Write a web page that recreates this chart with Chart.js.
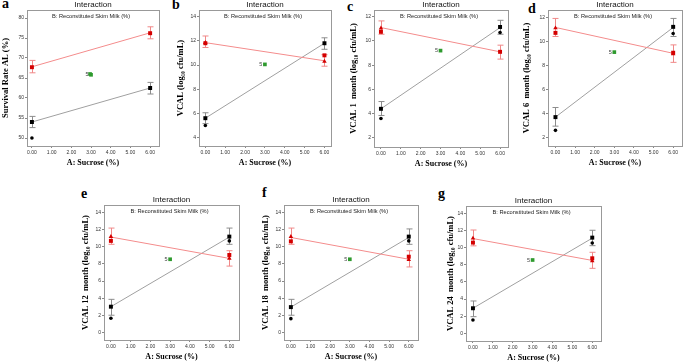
<!DOCTYPE html>
<html>
<head>
<meta charset="utf-8">
<script src="https://cdn.jsdelivr.net/npm/chart.js@4"></script>
<style>
  html, body { margin: 0; padding: 0; background: #fff; }
  body { width: 685px; height: 363px; position: relative; overflow: hidden; }
  canvas { position: absolute; }
  .letter { position: absolute; font: bold 14px 'Liberation Serif', 'Times New Roman', serif; line-height: 14px; color: #000; }
</style>
</head>
<body>
<div class="letter" style="left:2px;top:-3px">a</div>
<div class="letter" style="left:172px;top:-2px">b</div>
<div class="letter" style="left:347px;top:0px">c</div>
<div class="letter" style="left:528px;top:2px">d</div>
<div class="letter" style="left:81px;top:187px">e</div>
<div class="letter" style="left:262px;top:186px">f</div>
<div class="letter" style="left:438px;top:187px">g</div>
<script>
// factor levels and tick labels
const xLevels = [0, 6];
const xTicks = [0, 1, 2, 3, 4, 5, 6];
const yTickLists = [
    [50, 55, 60, 65, 70, 75, 80],
    [4, 6, 8, 10, 12, 14],
    [2, 4, 6, 8, 10, 12],
    [2, 4, 6, 8, 10, 12],
    [0, 2, 4, 6, 8, 10, 12, 14],
    [0, 2, 4, 6, 8, 10, 12, 14],
    [0, 2, 4, 6, 8, 10, 12, 14]
];
const yTitles = [
    'Survival Rate AL (%)',
    'VCAL (log\u2081\u2080 cfu/mL)',
    'VCAL 1  month (log\u2081\u2080 cfu/mL)',
    'VCAL 6  month (log\u2081\u2080 cfu/mL)',
    'VCAL 12  month (log\u2081\u2080 cfu/mL)',
    'VCAL 18  month (log\u2081\u2080 cfu/mL)',
    'VCAL 24  month (log\u2081\u2080 cfu/mL)'
];
const yRanges = [[48, 82], [3.3, 14.55], [1.25, 12.55], [1.3, 12.6], [-0.9, 14.9], [-0.9, 14.9], [-0.9, 14.85]];
const xRanges = [[-0.25, 6.45], [-0.32, 6.33], [-0.35, 6.4], [-0.38, 6.45], [-0.35, 6.49], [-0.35, 6.47], [-0.35, 6.44]];

// interaction lines (means at sucrose 0 and 6) and their error bars
const redMeans = [[67.8, 76.3], [11.85, 10.35], [11.1, 9.1], [11.15, 9.0], [11.15, 8.65], [11.1, 8.55], [11.05, 8.5]];
const redLow = [[66.3, 74.8], [11.45, 9.9], [10.55, 8.5], [10.4, 8.25], [10.3, 7.75], [10.3, 7.65], [10.2, 7.58]];
const redHigh = [[69.4, 77.8], [12.4, 10.85], [11.65, 9.65], [11.9, 9.7], [12.2, 9.55], [12.2, 9.55], [12.05, 9.45]];
const blackMeans = [[54, 62.5], [5.6, 11.8], [4.4, 11.1], [3.7, 11.15], [3.0, 11.15], [2.95, 11.1], [2.92, 11.1]];
const blackLow = [[52.6, 61.0], [5.15, 11.3], [3.85, 10.55], [2.95, 10.4], [2.0, 10.3], [2.0, 10.3], [1.94, 10.22]];
const blackHigh = [[55.4, 63.9], [6.05, 12.25], [5.0, 11.7], [4.5, 11.9], [3.86, 12.2], [3.86, 12.1], [3.77, 12.02]];

// design points
const redSquares = [
    [[0, 67.7], [6, 76.2]],
    [[0, 11.8], [6, 10.8]],
    [[0, 10.75], [6, 9.1]],
    [[0, 10.7], [6, 9.05]],
    [[0, 10.7], [6, 9.05]],
    [[0, 10.65], [6, 8.85]],
    [[0, 10.58], [6, 8.75]]
];
const redTriangles = [
    [],
    [[0, 11.85], [6, 10.3]],
    [[0, 11.05]],
    [[0, 11.1], [6, 8.95]],
    [[0, 11.2], [6, 8.65]],
    [[0, 11.2], [6, 8.5]],
    [[0, 11.08], [6, 8.44]]
];
const blackSquares = [
    [[0, 54], [6, 62.5]],
    [[0, 5.6], [6, 11.8]],
    [[0, 4.4], [6, 11.15]],
    [[0, 3.7], [6, 11.2]],
    [[0, 3.0], [6, 11.2]],
    [[0, 2.95], [6, 11.2]],
    [[0, 2.92], [6, 11.16]]
];
const blackCircles = [
    [[0, 50]],
    [[0, 5.0]],
    [[0, 3.6], [6, 10.7]],
    [[0, 2.6], [6, 10.65]],
    [[0, 1.64], [6, 10.7]],
    [[0, 1.6], [6, 10.7]],
    [[0, 1.55], [6, 10.54]]
];
const centrePoints = [
    [[2.95, 66.0], [3, 65.8]],
    [[3, 10.05]],
    [[3, 9.2]],
    [[3, 9.1]],
    [[3, 8.55]],
    [[3, 8.55]],
    [[3, 8.55]]
];
const centreReps = 5;

// plot box of each panel, page pixels
const boxes = [
    { l: 27, t: 10, r: 161, b: 146 },
    { l: 199, t: 10, r: 333, b: 146 },
    { l: 374, t: 10, r: 510, b: 147 },
    { l: 548, t: 10, r: 684, b: 146 },
    { l: 104, t: 205, r: 241, b: 340 },
    { l: 284, t: 205, r: 420, b: 340 },
    { l: 466, t: 206, r: 603, b: 341 }
];
const yAxisWidths = [25, 22, 24, 25, 22, 22, 19];

const SANS = "'Liberation Sans', Arial, sans-serif";
const SERIF = "'Liberation Serif', 'Times New Roman', serif";
Chart.defaults.font.family = SANS;

const toXY = arr => arr.map(p => ({ x: p[0], y: p[1] }));

function drawErrorBars(ctx, xs, ys, lows, highs, color) {
    ctx.strokeStyle = color;
    ctx.lineWidth = 1;
    xLevels.forEach((xv, k) => {
        const px = Math.round(xs.getPixelForValue(xv)) + 0.5;
        const y1 = ys.getPixelForValue(lows[k]);
        const y2 = ys.getPixelForValue(highs[k]);
        ctx.beginPath();
        ctx.moveTo(px, y1); ctx.lineTo(px, y2);
        ctx.moveTo(px - 3, y1); ctx.lineTo(px + 3, y1);
        ctx.moveTo(px - 3, y2); ctx.lineTo(px + 3, y2);
        ctx.stroke();
    });
}

const panelDecor = {
    id: 'panelDecor',
    beforeDatasetsDraw(chart, args, opts) {
        const i = opts.index;
        const ctx = chart.ctx;
        ctx.save();
        drawErrorBars(ctx, chart.scales.x, chart.scales.y, redLow[i], redHigh[i], '#f08888');
        drawErrorBars(ctx, chart.scales.x, chart.scales.y, blackLow[i], blackHigh[i], '#8c8c8c');
        ctx.restore();
    },
    afterDraw(chart, args, opts) {
        const i = opts.index;
        const ctx = chart.ctx;
        const a = chart.chartArea;
        ctx.save();
        ctx.strokeStyle = '#999';
        ctx.lineWidth = 1;
        ctx.strokeRect(Math.round(a.left) + 0.5, Math.round(a.top) + 0.5, Math.round(a.right - a.left), Math.round(a.bottom - a.top));
        ctx.fillStyle = '#222';
        ctx.font = '5.7px ' + SANS;
        ctx.textAlign = 'center';
        ctx.textBaseline = 'middle';
        ctx.fillText('B: Reconstituted Skim Milk (%)', (a.left + a.right) / 2 - 2, a.top + 6);
        // replicate count next to the centre point
        const c = centrePoints[i][centrePoints[i].length - 1];
        ctx.font = '5.5px ' + SANS;
        ctx.textAlign = 'right';
        ctx.fillStyle = '#444';
        ctx.fillText(String(centreReps), chart.scales.x.getPixelForValue(c[0]) - 2.5, chart.scales.y.getPixelForValue(c[1]));
        ctx.restore();
    }
};

function buildPanel(i) {
    const box = boxes[i];
    const yW = yAxisWidths[i];
    const topH = 10, botH = 21, padR = 2;
    const cv = document.createElement('canvas');
    cv.width = box.r - box.l + yW + padR;
    cv.height = box.b - box.t + topH + botH;
    cv.style.left = (box.l - yW) + 'px';
    cv.style.top = (box.t - topH) + 'px';
    document.body.appendChild(cv);

    new Chart(cv.getContext('2d'), {
        type: 'scatter',
        data: {
            datasets: [
                { data: toXY(centrePoints[i]), pointStyle: 'rect', pointRadius: 2.6, backgroundColor: '#2e9a2e', borderColor: '#2e9a2e', borderWidth: 0 },
                { data: toXY(redSquares[i]), pointStyle: 'rect', pointRadius: 2.8, backgroundColor: '#d40000', borderColor: '#d40000', borderWidth: 0 },
                { data: toXY(redTriangles[i]), pointStyle: 'triangle', pointRadius: 2.6, backgroundColor: '#d40000', borderColor: '#d40000', borderWidth: 0 },
                { data: toXY(blackSquares[i]), pointStyle: 'rect', pointRadius: 2.8, backgroundColor: '#000', borderColor: '#000', borderWidth: 0 },
                { data: toXY(blackCircles[i]), pointStyle: 'circle', pointRadius: 1.8, backgroundColor: '#000', borderColor: '#000', borderWidth: 0 },
                { data: xLevels.map((x, k) => ({ x: x, y: redMeans[i][k] })), showLine: true, pointRadius: 0, borderColor: '#f48c8c', borderWidth: 1 },
                { data: xLevels.map((x, k) => ({ x: x, y: blackMeans[i][k] })), showLine: true, pointRadius: 0, borderColor: '#a0a0a0', borderWidth: 1 }
            ]
        },
        options: {
            responsive: false,
            animation: false,
            events: [],
            layout: { padding: { left: 0, right: padR, top: 0, bottom: 0 } },
            scales: {
                x: {
                    type: 'linear',
                    min: xRanges[i][0],
                    max: xRanges[i][1],
                    afterBuildTicks: s => { s.ticks = xTicks.map(v => ({ value: v })); },
                    afterFit: s => { s.height = botH; },
                    grid: { drawOnChartArea: false, drawTicks: true, tickLength: 2, color: '#888' },
                    border: { display: false },
                    ticks: { autoSkip: false, maxRotation: 0, padding: 2, color: '#333', font: { size: 5 }, callback: v => Number(v).toFixed(2) },
                    title: { display: true, text: 'A: Sucrose (%)', color: '#000', padding: 0, font: { family: SERIF, size: 8, weight: 'bold', lineHeight: 1 } }
                },
                y: {
                    type: 'linear',
                    min: yRanges[i][0],
                    max: yRanges[i][1],
                    afterBuildTicks: s => { s.ticks = yTickLists[i].map(v => ({ value: v })); },
                    afterFit: s => { s.width = yW; },
                    grid: { drawOnChartArea: false, drawTicks: true, tickLength: 2, color: '#888' },
                    border: { display: false },
                    ticks: { padding: 1, color: '#333', font: { size: 5 } },
                    title: { display: true, text: yTitles[i], color: '#000', padding: 0, font: { family: SERIF, size: 8.5, weight: 'bold', lineHeight: 1 } }
                }
            },
            plugins: {
                legend: { display: false },
                tooltip: { enabled: false },
                title: { display: true, text: 'Interaction', fullSize: false, color: '#111', padding: { top: 1, bottom: 1 }, font: { size: 8, weight: 'normal', lineHeight: 1 } },
                panelDecor: { index: i }
            }
        },
        plugins: [panelDecor]
    });
}

for (let i = 0; i < boxes.length; i++) buildPanel(i);
</script>
</body>
</html>
